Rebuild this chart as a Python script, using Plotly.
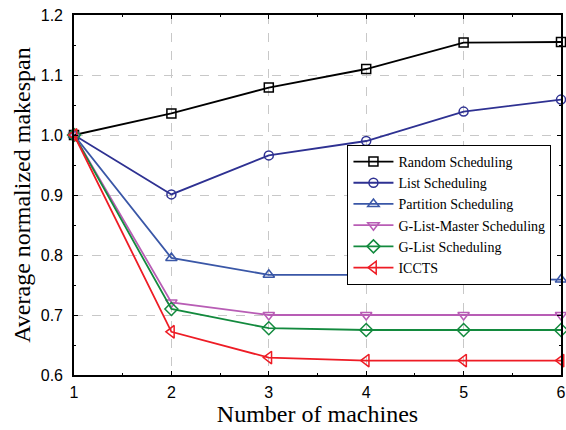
import plotly.graph_objects as go

machines = [1, 2, 3, 4, 5, 6]
random_sched = [1.0, 1.036, 1.079, 1.110, 1.154, 1.155]
list_sched = [1.0, 0.901, 0.966, 0.990, 1.039, 1.059]
partition_sched = [1.0, 0.795, 0.767, 0.767, 0.760, 0.759]
glist_master = [1.0, 0.721, 0.700, 0.700, 0.700, 0.700]
glist_sched = [1.0, 0.710, 0.678, 0.675, 0.675, 0.675]
iccts = [1.0, 0.672, 0.629, 0.624, 0.624, 0.624]

series = [
    ("Random Scheduling", random_sched, "#000000", "square-open", 9),
    ("List Scheduling", list_sched, "#2E3192", "circle-open", 9),
    ("Partition Scheduling", partition_sched, "#3A57A7", "triangle-up-open", 10),
    ("G-List-Master Scheduling", glist_master, "#B85DB5", "triangle-down-open", 10),
    ("G-List Scheduling", glist_sched, "#138A3E", "diamond-open", 10),
    ("ICCTS", iccts, "#EE1C25", "triangle-left-open", 11),
]

SERIF = "Liberation Serif"
SANS = "Liberation Sans"

fig = go.Figure()
for name, vals, color, sym, sz in series:
    fig.add_trace(go.Scatter(
        x=machines, y=vals, name=name, mode="lines+markers",
        line=dict(color=color, width=1.8),
        marker=dict(symbol=sym, size=sz, color=color, line=dict(width=1.5, color=color)),
        cliponaxis=False,
    ))

axis_common = dict(
    showline=True, linecolor="black", linewidth=1.6, mirror="ticks",
    ticks="inside", ticklen=4, tickcolor="black", tickwidth=1.2,
    showgrid=True, gridcolor="#C8C8C8", griddash="dash", gridwidth=1,
    zeroline=False, automargin=False,
    tickfont=dict(family=SANS, size=16, color="black"),
)

fig.update_xaxes(
    range=[1, 6], tickvals=machines, ticktext=[str(m) for m in machines],
    minor=dict(ticks="inside", ticklen=2, dtick=0.5, tick0=1, tickcolor="black", showgrid=False),
    title=dict(text="Number of machines", font=dict(family=SERIF, size=24, color="black"), standoff=4),
    ticklabelstandoff=2,
    **axis_common,
)
fig.update_yaxes(
    range=[0.6, 1.2], tickvals=[0.6, 0.7, 0.8, 0.9, 1.0, 1.1, 1.2],
    ticktext=["0.6", "0.7", "0.8", "0.9", "1.0", "1.1", "1.2"],
    minor=dict(ticks="inside", ticklen=2, dtick=0.05, tick0=0.6, tickcolor="black", showgrid=False),
    title=dict(text="Average normalized makespan", font=dict(family=SERIF, size=24, color="black"), standoff=3),
    ticklabelstandoff=6,
    **axis_common,
)

fig.update_layout(
    width=566, height=430,
    margin=dict(l=74, r=5, t=15, b=55),
    plot_bgcolor="white", paper_bgcolor="white",
    legend=dict(
        x=0.5615, y=0.639, xanchor="left", yanchor="top",
        bgcolor="white", bordercolor="black", borderwidth=1,
        font=dict(family=SERIF, size=14, color="black"),
        tracegroupgap=0, itemwidth=40,
    ),
)

fig.write_html(
    "out.html",
    config={"displayModeBar": False},
    post_script="document.body.style.margin='0';document.body.style.padding='0';",
)
